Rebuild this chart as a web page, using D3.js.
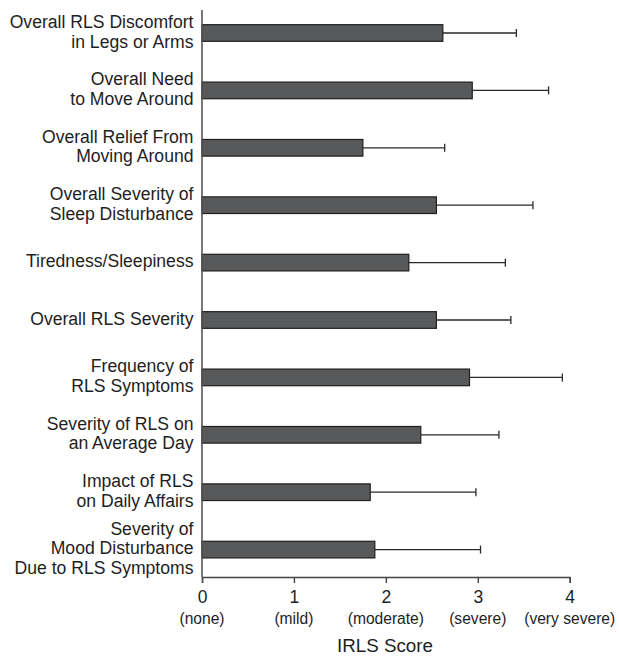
<!DOCTYPE html>
<html>
<head>
<meta charset="utf-8">
<script src="https://cdn.jsdelivr.net/npm/d3@7"></script>
<style>
  html, body { margin: 0; padding: 0; background: #fff; }
  svg { display: block; font-family: "Liberation Sans", Arial, Helvetica, sans-serif; }
</style>
</head>
<body>
<svg id="chart" width="619" height="663"></svg>
<script>
// IRLS item scores: mean with upper standard-deviation whisker
const categories = [
  ["Overall RLS Discomfort", "in Legs or Arms"],
  ["Overall Need", "to Move Around"],
  ["Overall Relief From", "Moving Around"],
  ["Overall Severity of", "Sleep Disturbance"],
  ["Tiredness/Sleepiness"],
  ["Overall RLS Severity"],
  ["Frequency of", "RLS Symptoms"],
  ["Severity of RLS on", "an Average Day"],
  ["Impact of RLS", "on Daily Affairs"],
  ["Severity of", "Mood Disturbance", "Due to RLS Symptoms"]
];
const means = [2.62, 2.94, 1.75, 2.55, 2.25, 2.55, 2.91, 2.38, 1.83, 1.88];
const errorTops = [3.42, 3.77, 2.64, 3.60, 3.30, 3.36, 3.92, 3.23, 2.98, 3.03];
const tickValues = [0, 1, 2, 3, 4];
const tickNotes = ["(none)", "(mild)", "(moderate)", "(severe)", "(very severe)"];
const axisTitle = "IRLS Score";

const svg = d3.select("#chart");
const x0 = 202, x1 = 569.7;
const yTop = 4.3, yBottom = 578.3;

const x = d3.scaleLinear().domain([0, 4]).range([x0, x1]);
const y = d3.scaleBand()
  .domain(d3.range(categories.length))
  .range([yTop, yBottom])
  .paddingInner(0.71)
  .paddingOuter(0.355);

// bars
svg.append("g").selectAll("rect")
  .data(means)
  .join("rect")
  .attr("x", x(0))
  .attr("y", (d, i) => y(i))
  .attr("width", d => x(d) - x(0))
  .attr("height", y.bandwidth())
  .attr("fill", "#58595b")
  .attr("stroke", "#1f1f1f")
  .attr("stroke-width", 1.2);

// error whiskers
const eb = svg.append("g").attr("stroke", "#2a2a2a").attr("stroke-width", 1.3);
errorTops.forEach((v, i) => {
  const cy = y(i) + y.bandwidth() / 2;
  eb.append("line").attr("x1", x(means[i])).attr("x2", x(v)).attr("y1", cy).attr("y2", cy);
  eb.append("line").attr("x1", x(v)).attr("x2", x(v)).attr("y1", cy - 4).attr("y2", cy + 4);
});

// vertical axis line
svg.append("line")
  .attr("x1", x0).attr("x2", x0)
  .attr("y1", 10).attr("y2", 577)
  .attr("stroke", "#555").attr("stroke-width", 1.6);

// category labels
const labelG = svg.append("g")
  .attr("text-anchor", "end")
  .attr("font-size", 17.6)
  .attr("fill", "#1e1e1e");
categories.forEach((lines, i) => {
  const cy = y(i) + y.bandwidth() / 2;
  const t = labelG.append("text").attr("x", x0 - 8.5);
  lines.forEach((ln, j) => {
    t.append("tspan")
      .attr("x", x0 - 8.5)
      .attr("y", cy + (j - (lines.length - 1) / 2) * 19.6 + 4.8)
      .text(ln);
  });
});

// x axis
const xAxis = svg.append("g")
  .attr("transform", "translate(0,577)")
  .call(d3.axisBottom(x).tickValues(tickValues).tickSize(6).tickFormat(d3.format("d")));
xAxis.select(".domain").attr("stroke", "#444").attr("stroke-width", 1.4);
xAxis.selectAll(".tick line").attr("stroke", "#444").attr("stroke-width", 1.4);
xAxis.selectAll(".tick text")
  .attr("font-size", 17.5)
  .attr("font-family", "Liberation Sans, Arial, sans-serif")
  .attr("fill", "#1e1e1e")
  .attr("y", 0).attr("dy", 0)
  .attr("transform", "translate(0,26)");

svg.append("g")
  .attr("text-anchor", "middle")
  .attr("font-size", 15.6)
  .attr("fill", "#1e1e1e")
  .selectAll("text")
  .data(tickNotes)
  .join("text")
  .attr("x", (d, i) => x(tickValues[i]))
  .attr("y", 623.5)
  .text(d => d);

svg.append("text")
  .attr("x", 385)
  .attr("y", 652)
  .attr("text-anchor", "middle")
  .attr("font-size", 18.8)
  .attr("fill", "#1e1e1e")
  .text(axisTitle);
</script>
</body>
</html>
